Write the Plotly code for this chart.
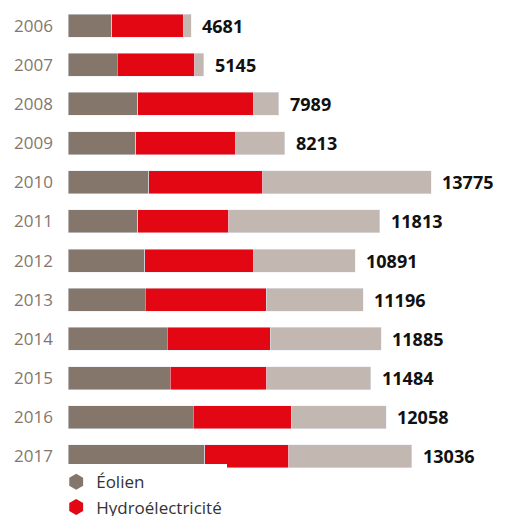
import plotly.graph_objects as go

years = ["2006", "2007", "2008", "2009", "2010", "2011", "2012", "2013", "2014", "2015", "2016", "2017"]
eolien = [1661, 1867, 2650, 2574, 3065, 2650, 2912, 2922, 3759, 3879, 4740, 5192]
hydro = [2718, 2934, 4392, 3785, 4314, 3445, 4122, 4592, 3911, 3651, 3716, 3183]
totals = [4681, 5145, 7989, 8213, 13775, 11813, 10891, 11196, 11885, 11484, 12058, 13036]
photo = [t - e - h for t, e, h in zip(totals, eolien, hydro)]

names = ["Éolien", "Hydroélectricité", "Photovoltaïque"]
colors = ["#85766c", "#e30613", "#c2b7b1"]
series = [eolien, hydro, photo]

FONT = "Open Sans"

fig = go.Figure()
for name, col, vals in zip(names, colors, series):
    fig.add_trace(go.Bar(
        y=years, x=vals, orientation="h", marker_color=col, name=name,
        showlegend=False,
    ))

for name, col in zip(names, colors):
    fig.add_trace(go.Scatter(
        x=[None], y=[None], mode="markers", name=name,
        marker=dict(symbol="hexagon", color=col, size=18),
    ))

for i, t in enumerate(totals):
    fig.add_annotation(
        x=t, y=i, xref="x", yref="y", text=f"<b>{t}</b>", showarrow=False,
        xanchor="left", xshift=9,
        font=dict(family=FONT, size=18, color="#111111"),
    )

fig.update_layout(
    barmode="stack",
    bargap=0.41,
    width=510, height=516,
    margin=dict(l=68, r=20, t=6, b=40, autoexpand=False),
    plot_bgcolor="white", paper_bgcolor="white",
    yaxis=dict(autorange="reversed", type="category", ticks="", ticklabelstandoff=14,
               tickfont=dict(family=FONT, size=17, color="#85766c")),
    xaxis=dict(range=[0, 16000], showticklabels=False, showgrid=False, zeroline=False),
    legend=dict(orientation="h", xref="paper", yref="container",
                x=-0.028, xanchor="left", y=0.017, yanchor="middle",
                traceorder="normal", font=dict(family=FONT, size=17, color="#333333")),
)

fig.write_html("out.html", config={"displayModeBar": False},
               post_script="document.body.style.margin='0';")
